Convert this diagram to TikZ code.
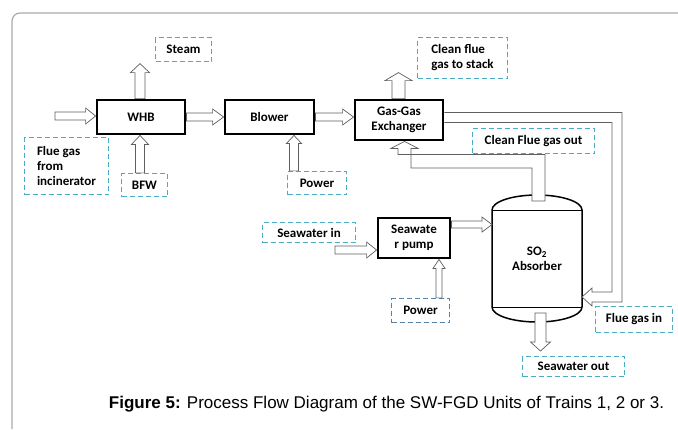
\documentclass[tikz,border=0pt]{standalone}
\usepackage{fontspec}
\setmainfont{Carlito}
\newfontfamily\capfont{Liberation Sans}
\usetikzlibrary{calc}

\definecolor{tagteal}{RGB}{75,172,198}
\definecolor{tagblue}{RGB}{88,128,168}
\definecolor{pipegray}{RGB}{95,95,95}
\definecolor{framegray}{RGB}{170,170,170}

\tikzset{
  unit/.style={draw, line width=2.8pt, fill=white, align=center, inner sep=2pt,
    font=\fontsize{13}{15}\selectfont\bfseries},
  tag/.style={draw=tagteal, line width=1.3pt, dash pattern=on 5pt off 3pt, align=left,
    inner sep=3pt, font=\fontsize{13}{15}\selectfont\bfseries},
  flowline/.style={draw=pipegray, fill=white, line width=0.7pt},
  flowshaft/.store in=\flowshaft, flowhead/.store in=\flowhead, flowlen/.store in=\flowlen,
  flowshaft=4, flowhead=8, flowlen=10,
}

% hollow block arrow from #2 to #3
\newcommand{\flow}[3][]{%
  \draw[flowline,#1] let \p1=#2, \p2=#3,
    \n1={atan2(\y2-\y1,\x2-\x1)}, \n2={veclen(\x2-\x1,\y2-\y1)} in
    [shift={(\p1)},rotate=\n1]
    (0,-\flowshaft) -- (\n2-\flowlen,-\flowshaft) -- (\n2-\flowlen,-\flowhead)
    -- (\n2,0) -- (\n2-\flowlen,\flowhead) -- (\n2-\flowlen,\flowshaft)
    -- (0,\flowshaft) -- cycle;}

\begin{document}
\begin{tikzpicture}[x=1pt,y=1pt]
\useasboundingbox (0,0) rectangle (678,-429);
\draw[framegray, line width=1.2pt, rounded corners=8] (678,-13) -- (12,-13) -- (12,-429);

% units
\node[unit, minimum width=88, minimum height=34] (whb) at (141,-117) {WHB};
\node[unit, minimum width=89, minimum height=34] (blower) at (269.5,-117) {Blower};
\node[unit, minimum width=88, minimum height=40] (gge) at (399,-120) {Gas-Gas\\Exchanger};
\node[unit, minimum width=72, minimum height=40] (pump) at (414,-238) {Seawate\\r pump};
\node[minimum width=90, minimum height=127, inner sep=0pt, outer sep=0pt, align=center,
  font=\fontsize{13}{15}\selectfont\bfseries] (absorber) at (537,-258.5) {SO\textsubscript{2}\\Absorber};

% absorber vessel
\draw[line width=1.5pt] ([yshift=-15]absorber.north west)
  arc[start angle=180, end angle=0, x radius=45, y radius=15]
  -- ([yshift=15]absorber.south east)
  arc[start angle=0, end angle=-180, x radius=45, y radius=15] -- cycle;
\draw[line width=0.6pt] ([yshift=-15]absorber.north west) -- ([yshift=-15]absorber.north east);
\draw[line width=0.6pt] ([yshift=15]absorber.south west) -- ([yshift=15]absorber.south east);

% streams
\node[tag, minimum width=56, minimum height=24] (steam) at (183.5,-49.5) {Steam};
\node[tag, minimum width=90, minimum height=41] (stack) at (462.5,-58) {Clean flue\\gas to stack};
\node[tag, minimum width=84, minimum height=57] (fluegas) at (66.5,-166) {Flue gas\\from\\incinerator};
\node[tag, minimum width=46, minimum height=23] (bfw) at (144.5,-185) {BFW};
\node[tag, minimum width=59, minimum height=23] (powerone) at (317,-183) {Power};
\node[tag, minimum width=122, minimum height=25] (cleanout) at (533.5,-141) {Clean Flue gas out};
\node[tag, minimum width=93, minimum height=20] (seain) at (309,-232.5) {Seawater in};
\node[tag, draw=tagblue, minimum width=58, minimum height=24] (powertwo) at (420.5,-310.5) {Power};
\node[tag, minimum width=102, minimum height=20] (seaout) at (573.5,-366.5) {Seawater out};
\node[tag, minimum width=77, minimum height=26] (fluein) at (634,-319.5) {Flue gas in};

\coordinate (fgsrc) at (55,-116);
\coordinate (bfwtop) at ($(bfw.north)+(-4.5,0)$);
\coordinate (pw1top) at ($(powerone.north)+(-23,0)$);
\coordinate (pw2top) at ($(powertwo.north)+(18.5,0)$);
\coordinate (swsrc) at (335,-250);
\coordinate (pumpout) at ($(pump.east)+(0,13.5)$);
\coordinate (swtop) at ($(absorber.south)+(3.5,9)$);
\coordinate (fghead) at ($(absorber.east)+(10,-38.5)$);
\coordinate (fgturn) at ($(fghead)+(25,0)$);
\coordinate (cgbot) at ($(absorber.north)+(1.5,-6)$);
\coordinate (cghead) at ($(gge.south)+(5.5,-7)$);
\coordinate (cgturn) at ($(cghead)+(0,-13)$);

% flows
\flow{(fgsrc)}{(fgsrc -| whb.west)};
\flow[flowshaft=5,flowhead=9.5,flowlen=9]{([xshift=-1]whb.north)}{([shift={(-1,35)}]whb.north)};
\flow[flowshaft=4.5,flowhead=8.5,flowlen=9]{(bfwtop)}{(bfwtop |- whb.south)};
\flow[flowlen=11]{(whb.east)}{(blower.west)};
\flow[flowshaft=4.5,flowhead=7.5,flowlen=8]{(pw1top)}{(pw1top |- blower.south)};
\flow[flowlen=11]{(blower.east)}{(blower.east -| gge.west)};
\flow[flowshaft=6.5,flowhead=13.5,flowlen=8]{([xshift=-0.5]gge.north)}{([shift={(-0.5,26)}]gge.north)};
\flow{(swsrc)}{(swsrc -| pump.west)};
\flow[flowshaft=3,flowhead=6,flowlen=9]{(pw2top)}{(pw2top |- pump.south)};
\flow[flowshaft=3.5,flowhead=7.5]{(pumpout)}{(pumpout -| absorber.west)};
\flow[flowshaft=5.5,flowhead=10,flowlen=9]{(swtop)}{($(absorber.south)+(3.5,-29)$)};

% pipes
\draw[flowline] ($(gge.east)+(0,7.5)$) -| ($(fgturn)+(5,-5)$) -- ($(fghead)+(0,-5)$)
  -- ($(fghead)+(0,-9)$) -- (fghead -| absorber.east) -- ($(fghead)+(0,9)$)
  -- ($(fghead)+(0,5)$) -- ($(fgturn)+(-5,5)$) |- ($(gge.east)+(0,-2.5)$);
\draw[flowline] ($(cgbot)+(-6.5,0)$) |- ($(cgturn)+(6.5,-6.5)$) -- ($(cghead)+(6.5,0)$)
  -- ($(cghead)+(13.5,0)$) -- (cghead |- gge.south) -- ($(cghead)+(-13.5,0)$)
  -- ($(cghead)+(-6.5,0)$) |- ($(cgbot)+(6.5,46.5)$) -- ($(cgbot)+(6.5,0)$) -- cycle;

\node[font=\capfont\fontsize{17}{20}\selectfont] (caption) at (386.5,-404)
  {\textbf{Figure 5:} Process Flow Diagram of the SW-FGD Units of Trains 1, 2 or 3.};
\end{tikzpicture}
\end{document}
